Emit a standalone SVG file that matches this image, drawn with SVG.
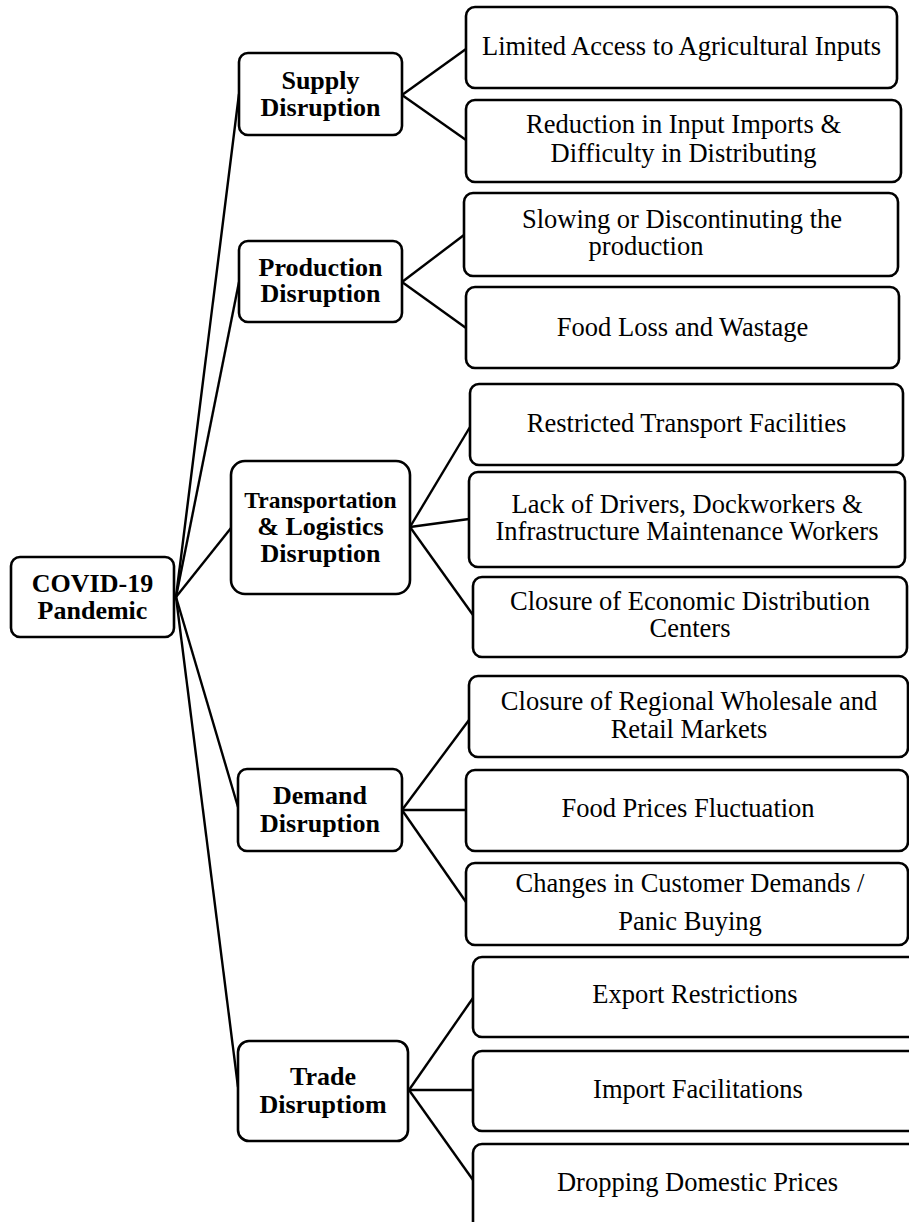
<svg xmlns="http://www.w3.org/2000/svg" width="909" height="1222" viewBox="0 0 909 1222">
<style>
.box{fill:#fff;stroke:#000;stroke-width:2.6}
.b{font-family:"Liberation Serif","Times New Roman",serif;font-weight:bold;font-size:26px;text-anchor:middle;fill:#000}
.r{font-family:"Liberation Serif","Times New Roman",serif;font-size:26.5px;text-anchor:middle;fill:#000}
.ln{stroke:#000;stroke-width:2.4;fill:none}
</style>
<rect width="909" height="1222" fill="#fff"/>
<g id="connectors" class="ln">
<line x1="176" y1="597" x2="239" y2="94"/>
<line x1="176" y1="597" x2="239" y2="282"/>
<line x1="176" y1="597" x2="231" y2="528"/>
<line x1="176" y1="597" x2="238" y2="807"/>
<line x1="176" y1="597" x2="238" y2="1087"/>
<line x1="402" y1="95" x2="466" y2="49"/>
<line x1="402" y1="95" x2="466" y2="140"/>
<line x1="402" y1="282" x2="464" y2="235"/>
<line x1="402" y1="282" x2="466" y2="328"/>
<line x1="410" y1="527" x2="470" y2="427"/>
<line x1="410" y1="527" x2="469" y2="519"/>
<line x1="410" y1="527" x2="473" y2="615"/>
<line x1="402" y1="810" x2="469" y2="720"/>
<line x1="402" y1="810" x2="466" y2="810"/>
<line x1="402" y1="810" x2="466" y2="902"/>
<line x1="409" y1="1090" x2="473" y2="998"/>
<line x1="409" y1="1090" x2="473" y2="1090"/>
<line x1="409" y1="1090" x2="473" y2="1180"/>
</g>
<g id="root">
<rect class="box" x="11" y="557" width="163" height="80" rx="9"/>
<text class="b" x="92.5" y="592">COVID-19</text>
<text class="b" x="92.5" y="619">Pandemic</text>
</g>
<g id="supply">
<rect class="box" x="239" y="53" width="163" height="82" rx="9"/>
<text class="b" x="320.5" y="89">Supply</text>
<text class="b" x="320.5" y="116">Disruption</text>
</g>
<g id="production">
<rect class="box" x="239" y="241" width="163" height="81" rx="9"/>
<text class="b" x="320.5" y="276">Production</text>
<text class="b" x="320.5" y="302">Disruption</text>
</g>
<g id="transport">
<rect class="box" x="231" y="461" width="179" height="133" rx="14"/>
<text class="b" x="320.5" y="508" style="font-size:23.5px">Transportation</text>
<text class="b" x="320.5" y="535">&amp; Logistics</text>
<text class="b" x="320.5" y="562">Disruption</text>
</g>
<g id="demand">
<rect class="box" x="238" y="769" width="164" height="82" rx="9"/>
<text class="b" x="320" y="804">Demand</text>
<text class="b" x="320" y="832">Disruption</text>
</g>
<g id="trade">
<rect class="box" x="238" y="1041" width="170" height="100" rx="11"/>
<text class="b" x="323" y="1085">Trade</text>
<text class="b" x="323" y="1113">Disruptiom</text>
</g>
<g id="n1">
<rect class="box" x="466" y="7" width="431" height="81" rx="9"/>
<text class="r" x="681.5" y="55">Limited Access to Agricultural Inputs</text>
</g>
<g id="n2">
<rect class="box" x="466" y="100" width="435" height="82" rx="9"/>
<text class="r" x="683.5" y="133">Reduction in Input Imports &amp;</text>
<text class="r" x="683.5" y="162">Difficulty in Distributing</text>
</g>
<g id="n3">
<rect class="box" x="464" y="193" width="434" height="83" rx="9"/>
<text class="r" x="682" y="228">Slowing or Discontinuting the</text>
<text class="r" x="646" y="255">production</text>
</g>
<g id="n4">
<rect class="box" x="466" y="287" width="433" height="81" rx="9"/>
<text class="r" x="682.5" y="336">Food Loss and Wastage</text>
</g>
<g id="n5">
<rect class="box" x="470" y="384" width="433" height="81" rx="9"/>
<text class="r" x="686.5" y="432">Restricted Transport Facilities</text>
</g>
<g id="n6">
<rect class="box" x="469" y="472" width="436" height="95" rx="9"/>
<text class="r" x="687" y="513">Lack of Drivers, Dockworkers &amp;</text>
<text class="r" x="687" y="540">Infrastructure Maintenance Workers</text>
</g>
<g id="n7">
<rect class="box" x="473" y="577" width="434" height="80" rx="9"/>
<text class="r" x="690" y="610">Closure of Economic Distribution</text>
<text class="r" x="690" y="637">Centers</text>
</g>
<g id="n8">
<rect class="box" x="469" y="676" width="439" height="81" rx="9"/>
<text class="r" x="689" y="710">Closure of Regional Wholesale and</text>
<text class="r" x="689" y="738">Retail Markets</text>
</g>
<g id="n9">
<rect class="box" x="466" y="770" width="442" height="81" rx="9"/>
<text class="r" x="688" y="817">Food Prices Fluctuation</text>
</g>
<g id="n10">
<rect class="box" x="466" y="863" width="442" height="82" rx="9"/>
<text class="r" x="690" y="892">Changes in Customer Demands /</text>
<text class="r" x="690" y="930">Panic Buying</text>
</g>
<g id="n11">
<rect class="box" x="473" y="957" width="449" height="80" rx="9"/>
<text class="r" x="695" y="1003">Export Restrictions</text>
</g>
<g id="n12">
<rect class="box" x="473" y="1051" width="449" height="80" rx="9"/>
<text class="r" x="698" y="1098">Import Facilitations</text>
</g>
<g id="n13">
<rect class="box" x="473" y="1144" width="449" height="90" rx="9"/>
<text class="r" x="697.5" y="1191">Dropping Domestic Prices</text>
</g>
</svg>
